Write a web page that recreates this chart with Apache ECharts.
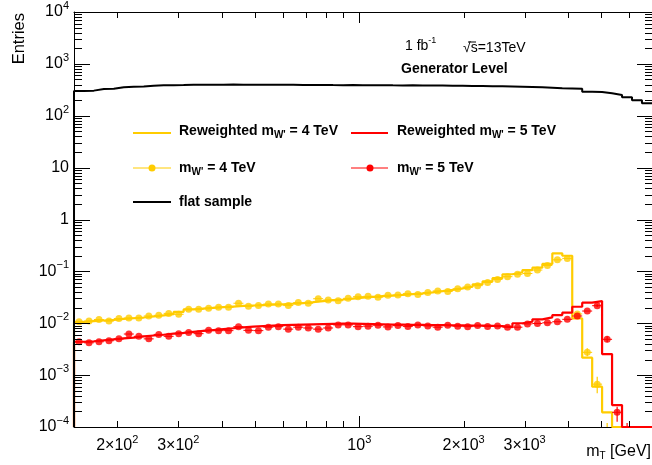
<!DOCTYPE html>
<html>
<head>
<meta charset="utf-8">
<title>mT reweighting</title>
<script src="https://cdn.jsdelivr.net/npm/echarts@6/dist/echarts.min.js"></script>
<style>
  html, body { margin: 0; padding: 0; background: #fff; }
  #chart { width: 652px; height: 465px; }
</style>
</head>
<body>
<div id="chart"></div>
<script>
// mT bin edges [GeV], 58 log-spaced bins
const binEdges = [150, 160.3, 171.2, 183.0, 195.5, 208.9, 223.2, 238.5, 254.8, 272.3,
  290.9, 310.9, 332.2, 354.9, 379.3, 405.2, 433.0, 462.7, 494.4, 528.2,
  564.4, 603.1, 644.4, 688.6, 735.7, 786.2, 840.0, 897.6, 959.0, 1024.5,
  1094.8, 1169.6, 1249.8, 1335.4, 1426.9, 1524.5, 1628.9, 1740.5, 1859.9, 1987.0,
  2123.3, 2268.8, 2423.8, 2589.9, 2767.5, 2957.5, 3159.9, 3376.7, 3608.1, 3855.0,
  4118.7, 4401.0, 4702.6, 5023.1, 5367.6, 5735.4, 6128.6, 6548.0, 7000]

// flat sample (black)
const flatSample = [300, 305, 328, 330, 355, 362, 368, 380, 386, 388,
  390, 395, 397, 398, 396, 399, 397, 398, 396, 397,
  395, 396, 392, 391, 393, 390, 389, 390, 388, 387,
  388, 386, 385, 386, 384, 382, 381, 378, 377, 375,
  373, 371, 370, 366, 362, 358, 354, 348, 340, 335,
  330, 291, 288, 271, 251, 227, 200, 174]

// reweighted flat sample, mW' = 4 TeV
const rewW4 = [0.0106, 0.0110, 0.0113, 0.0116, 0.0121, 0.0125, 0.0129, 0.0135, 0.0142, 0.0150,
  0.0165, 0.0185, 0.0192, 0.0198, 0.0204, 0.0210, 0.0216, 0.0220, 0.0224, 0.0228,
  0.0232, 0.0238, 0.0245, 0.0255, 0.0268, 0.0278, 0.0287, 0.0298, 0.0312, 0.0322,
  0.0332, 0.0342, 0.0352, 0.0364, 0.0378, 0.0395, 0.0415, 0.0440, 0.0470, 0.0505,
  0.0560, 0.0640, 0.0740, 0.088, 0.096, 0.106, 0.118, 0.139, 0.223, 0.200,
  0.0124, 0.00217, 0.000598, 0.000192, 0, 0, 0, 0]

// reweighted flat sample, mW' = 5 TeV
const rewW5 = [0.0044, 0.0045, 0.0047, 0.0049, 0.0051, 0.0053, 0.0056, 0.0058, 0.0060, 0.0063,
  0.0065, 0.0068, 0.0071, 0.0074, 0.0077, 0.0080, 0.0083, 0.0086, 0.0088, 0.0090,
  0.0092, 0.0093, 0.0094, 0.0095, 0.0096, 0.0097, 0.0098, 0.0098, 0.0097, 0.0096,
  0.0095, 0.0094, 0.0094, 0.0093, 0.0093, 0.0092, 0.0092, 0.0091, 0.0091, 0.0090,
  0.0090, 0.0089, 0.0088, 0.0084, 0.0100, 0.0107, 0.0119, 0.0130, 0.0144, 0.0160,
  0.0208, 0.0249, 0.0268, 0.00255, 0.000265, 0, 0, 0]

// signal samples (points)
const sigW4 = [0.0107, 0.0110, 0.0118, 0.0110, 0.0123, 0.0126, 0.0126, 0.0138, 0.0142, 0.0155,
  0.0149, 0.0186, 0.0186, 0.0194, 0.0203, 0.0203, 0.0243, 0.0212, 0.0219, 0.0235,
  0.0235, 0.0219, 0.0250, 0.0243, 0.0297, 0.0280, 0.0272, 0.0302, 0.0325, 0.0330,
  0.0318, 0.0345, 0.0350, 0.0372, 0.0360, 0.0392, 0.0420, 0.0410, 0.0462, 0.0500,
  0.0530, 0.0610, 0.0700, 0.079, 0.088, 0.091, 0.106, 0.130, 0.167, 0.178,
  0.0151, 0.00275, 0.00067, 0, 0, 0, 0, 0]

const sigW5 = [0.0044, 0.0042, 0.0044, 0.0046, 0.0050, 0.0062, 0.0056, 0.0050, 0.0061, 0.0056,
  0.0063, 0.0066, 0.0063, 0.0073, 0.0072, 0.0072, 0.0086, 0.0073, 0.0072, 0.0084,
  0.0086, 0.0077, 0.0084, 0.0081, 0.0077, 0.0081, 0.0093, 0.0093, 0.0086, 0.0088,
  0.0092, 0.0085, 0.0090, 0.0087, 0.0093, 0.0089, 0.0084, 0.0091, 0.0088, 0.0086,
  0.0090, 0.0087, 0.0089, 0.0084, 0.0084, 0.0097, 0.0099, 0.0102, 0.0107, 0.0119,
  0.0138, 0.0172, 0.0218, 0.0049, 0.000192, 0, 0, 0]

// visible vertical error bars: [bin, low, high]
const sigW4Err = [[51, 0.0023, 0.0033], [52, 0.000445, 0.00093], [53, 0, 0.00012]]
const sigW5Err = [[52, 0.0205, 0.0232], [53, 0.0043, 0.0056], [54, 0.000126, 0.000246], [55, 0, 0.00012]]

// axis labels
const xLabelValues = [200, 300, 1000, 2000, 3000]
const xLabelTexts = ['2×10{e|2}', '3×10{e|2}', '10{e|3}', '2×10{e|3}', '3×10{e|3}']
const yLabelValues = [1e-4, 1e-3, 1e-2, 1e-1, 1, 10, 100, 1000, 10000]
const yLabelTexts = ['10{e|−4}', '10{e|−3}', '10{e|−2}', '10{e|−1}', '1', '10', '10{e|2}', '10{e|3}', '10{e|4}']

const xMin = 150, xMax = 7000, yMin = 1e-4, yMax = 1e4
// empty bins sit on the lower frame (nudged just inside the axis range)
const yFloor = yMin * 1.001
const YELLOW = '#ffcc00', RED = '#ff0000'
const FONT = '"Liberation Sans", Arial, sans-serif'
const GRID = { left: 74, top: 12, right: 0, bottom: 38 }
const W = 652, H = 465

// tick marks: [x, y, kind (0 = x tick, 1 = y tick), length]
const tickData = []
for (let d = 100; d <= 1000; d *= 10) {
  for (let m = 2; m <= 9; m++) {
    if (m * d < xMax) tickData.push([m * d, 1, 0, 6])
  }
}
tickData.push([1000, 1, 0, 11])
for (let e = -4; e <= 3; e++) {
  for (let m = 2; m <= 9; m++) tickData.push([1000, Number((m * Math.pow(10, e)).toPrecision(3)), 1, 8])
}
yLabelValues.forEach(v => {
  if (v > yMin && v < yMax) tickData.push([1000, v, 1, 16])
})

const pickLabel = (values, texts) => v => {
  for (let i = 0; i < values.length; i++) {
    if (Math.abs(v / values[i] - 1) < 1e-6) return texts[i]
  }
  return ''
}

const stepData = vals => {
  const x0 = binEdges[0] * 1.0001
  const d = [[x0, yFloor]]
  vals.forEach((v, i) => d.push([i === 0 ? x0 : binEdges[i], v > 0 ? v : yFloor]))
  const last = vals[vals.length - 1]
  d.push([binEdges[vals.length] / 1.0001, last > 0 ? last : yFloor])
  return d
}

const pointData = vals => {
  const d = []
  vals.forEach((v, i) => {
    if (v > 0) d.push([(binEdges[i] + binEdges[i + 1]) / 2, v])
  })
  return d
}

const errData = (vals, errs) => {
  const d = []
  vals.forEach((v, i) => {
    const e = errs.find(r => r[0] === i)
    if (v > 0 || e) {
      d.push([(binEdges[i] + binEdges[i + 1]) / 2, v > 0 ? v : yFloor,
        binEdges[i], binEdges[i + 1], e ? Math.max(e[1], yFloor) : 0, e ? e[2] : 0])
    }
  })
  return d
}

const seg = (x1, y1, x2, y2, color, w) => ({
  type: 'line', shape: { x1, y1, x2, y2 }, style: { stroke: color, lineWidth: w }
})

const errRender = color => (params, api) => {
  const children = []
  const y = api.value(1)
  if (y > yFloor) {
    const a = api.coord([api.value(2), y])
    const b = api.coord([api.value(3), y])
    children.push(seg(a[0], a[1], b[0], b[1], color, 1))
  }
  if (api.value(5) > 0) {
    const p = api.coord([api.value(0), api.value(4)])
    const q = api.coord([api.value(0), api.value(5)])
    children.push(seg(p[0], p[1], q[0], q[1], color, 1.2))
  }
  return { type: 'group', children }
}

// frame edges in pixels, taken from the scales a hair inside the axis range
const frameOf = api => {
  const a = api.coord([xMin * 1.001, yMin * 1.001])
  const b = api.coord([xMax / 1.001, yMax / 1.001])
  const ok = v => isFinite(v)
  return {
    l: ok(a[0]) ? Math.round(a[0]) : GRID.left,
    b: ok(a[1]) ? Math.round(a[1]) : H - GRID.bottom,
    r: ok(b[0]) ? Math.round(b[0]) : W - GRID.right,
    t: ok(b[1]) ? Math.round(b[1]) : GRID.top
  }
}

// ticks on all four sides, pointing inward
const tickRender = (params, api) => {
  const f = frameOf(api)
  const p = api.coord([api.value(0), api.value(1)])
  const len = api.value(3)
  if (api.value(2) === 0) {
    const x = Math.round(p[0]) + 0.5
    return { type: 'group', children: [seg(x, f.b, x, f.b - len, '#000', 1), seg(x, f.t, x, f.t + len, '#000', 1)] }
  }
  const y = Math.round(p[1]) + 0.5
  return { type: 'group', children: [seg(f.l, y, f.l + len, y, '#000', 1), seg(f.r, y, f.r - len + 1, y, '#000', 1)] }
}

const supRich = { e: { fontSize: 11, fontFamily: FONT, color: '#000', verticalAlign: 'top', padding: [0, 0, 12, 0] } }

const frameLine = { show: true, onZero: false, lineStyle: { color: '#000', width: 1 } }

const legendRich = {
  b: { fontSize: 14, fontWeight: 'bold', fontFamily: FONT, color: '#000' },
  sub: { fontSize: 10, fontWeight: 'bold', fontFamily: FONT, color: '#000', verticalAlign: 'bottom', padding: [9, 0, 0, 0] }
}

const baseGraphic = [
  // axis titles
  {
    type: 'text', x: 19, y: 13, rotation: Math.PI / 2, silent: true,
    style: { text: 'Entries', font: '16.5px ' + FONT, fill: '#000', textAlign: 'right', textVerticalAlign: 'middle' }
  },
  {
    type: 'text', x: 651, y: 452, silent: true,
    style: {
      text: '{m|m}{t|T}{m| [GeV]}', textAlign: 'right', textVerticalAlign: 'middle',
      rich: {
        m: { fontSize: 16, fontFamily: FONT, color: '#000' },
        t: { fontSize: 10, fontFamily: FONT, color: '#000', verticalAlign: 'bottom', padding: [9, 0, 0, 0] }
      }
    }
  },
  // labels
  {
    type: 'text', x: 405, y: 46, silent: true,
    style: {
      text: '{m|1 fb}{e|-1}', textVerticalAlign: 'middle',
      rich: {
        m: { fontSize: 14, fontFamily: FONT, color: '#000' },
        e: { fontSize: 9, fontFamily: FONT, color: '#000', verticalAlign: 'top', padding: [0, 0, 10, 0] }
      }
    }
  },
  { type: 'text', x: 463, y: 48, silent: true, style: { text: '√s=13TeV', font: '14px ' + FONT, fill: '#000', textVerticalAlign: 'middle' } },
  { type: 'line', silent: true, shape: { x1: 468, y1: 42, x2: 476, y2: 42 }, style: { stroke: '#000', lineWidth: 1 } },
  { type: 'text', x: 401, y: 69, silent: true, style: { text: 'Generator Level', font: 'bold 14px ' + FONT, fill: '#000', textVerticalAlign: 'middle' } },
  // legend
  { type: 'line', silent: true, shape: { x1: 133, y1: 133, x2: 171, y2: 133 }, style: { stroke: YELLOW, lineWidth: 2 } },
  { type: 'text', x: 179, y: 131, silent: true, style: { text: "{b|Reweighted m}{sub|W'}{b| = 4 TeV}", textVerticalAlign: 'middle', rich: legendRich } },
  { type: 'line', silent: true, shape: { x1: 351, y1: 133, x2: 388, y2: 133 }, style: { stroke: RED, lineWidth: 2 } },
  { type: 'text', x: 397, y: 131, silent: true, style: { text: "{b|Reweighted m}{sub|W'}{b| = 5 TeV}", textVerticalAlign: 'middle', rich: legendRich } },
  { type: 'line', silent: true, shape: { x1: 133, y1: 168, x2: 171, y2: 168 }, style: { stroke: YELLOW, lineWidth: 1 } },
  { type: 'circle', silent: true, shape: { cx: 152, cy: 168, r: 3.5 }, style: { fill: YELLOW } },
  { type: 'text', x: 179, y: 168, silent: true, style: { text: "{b|m}{sub|W'}{b| = 4 TeV}", textVerticalAlign: 'middle', rich: legendRich } },
  { type: 'line', silent: true, shape: { x1: 351, y1: 168, x2: 388, y2: 168 }, style: { stroke: RED, lineWidth: 1 } },
  { type: 'circle', silent: true, shape: { cx: 370, cy: 168, r: 3.5 }, style: { fill: RED } },
  { type: 'text', x: 397, y: 168, silent: true, style: { text: "{b|m}{sub|W'}{b| = 5 TeV}", textVerticalAlign: 'middle', rich: legendRich } },
  { type: 'line', silent: true, shape: { x1: 133, y1: 202, x2: 171, y2: 202 }, style: { stroke: '#000', lineWidth: 2 } },
  { type: 'text', x: 179, y: 202, silent: true, style: { text: 'flat sample', font: 'bold 14px ' + FONT, fill: '#000', textVerticalAlign: 'middle' } }
]

const buildOption = extraGraphic => ({
  animation: false,
  backgroundColor: '#fff',
  grid: Object.assign({ containLabel: false, outerBoundsMode: 'none' }, GRID),
  xAxis: [
    {
      type: 'log', min: xMin, max: xMax, position: 'bottom',
      axisLine: frameLine, axisTick: { show: false }, splitLine: { show: false },
      axisLabel: {
        customValues: xLabelValues, formatter: pickLabel(xLabelValues, xLabelTexts),
        margin: 7, fontSize: 16, fontFamily: FONT, color: '#000', rich: supRich
      }
    },
    {
      type: 'log', min: xMin, max: xMax, position: 'top',
      axisLine: frameLine, axisTick: { show: false }, axisLabel: { show: false }, splitLine: { show: false }
    }
  ],
  yAxis: [
    {
      type: 'log', min: yMin, max: yMax, position: 'left',
      axisLine: frameLine, axisTick: { show: false }, splitLine: { show: false },
      axisLabel: {
        customValues: yLabelValues, formatter: pickLabel(yLabelValues, yLabelTexts),
        margin: 5, fontSize: 16, fontFamily: FONT, color: '#000', rich: supRich
      }
    },
    {
      type: 'log', min: yMin, max: yMax, position: 'right',
      axisLine: frameLine, axisTick: { show: false }, axisLabel: { show: false }, splitLine: { show: false }
    }
  ],
  series: [
    {
      name: "Reweighted mW' = 4 TeV", type: 'line', step: 'end', symbol: 'none', clip: true,
      data: stepData(rewW4), lineStyle: { color: YELLOW, width: 2.2 }, z: 2
    },
    {
      name: "Reweighted mW' = 5 TeV", type: 'line', step: 'end', symbol: 'none', clip: true,
      data: stepData(rewW5), lineStyle: { color: RED, width: 2.2 }, z: 2
    },
    {
      name: 'err4', type: 'custom', clip: true, renderItem: errRender(YELLOW),
      data: errData(sigW4, sigW4Err), z: 3
    },
    {
      name: "mW' = 4 TeV", type: 'scatter', symbol: 'circle', symbolSize: 7, clip: true,
      data: pointData(sigW4), itemStyle: { color: YELLOW }, z: 3
    },
    {
      name: 'err5', type: 'custom', clip: true, renderItem: errRender(RED),
      data: errData(sigW5, sigW5Err), z: 3
    },
    {
      name: "mW' = 5 TeV", type: 'scatter', symbol: 'circle', symbolSize: 7, clip: true,
      data: pointData(sigW5), itemStyle: { color: RED }, z: 3
    },
    {
      name: 'flat sample', type: 'line', step: 'end', symbol: 'none', clip: true,
      data: stepData(flatSample), lineStyle: { color: '#000', width: 2 }, z: 4
    },
    {
      name: 'ticks', type: 'custom', clip: true, renderItem: tickRender,
      data: tickData, z: 3
    }
  ],
  graphic: baseGraphic.concat(extraGraphic)
})

const chart = echarts.init(document.getElementById('chart'))
chart.setOption(buildOption([]))

// second pass: the same ticks as plain lines, positioned through the laid-out axes
const toPx = p => chart.convertToPixel({ xAxisIndex: 0, yAxisIndex: 0 }, p)
const frameL = GRID.left, frameT = GRID.top, frameR = W - GRID.right, frameB = H - GRID.bottom
const tickLines = []
tickData.forEach(t => {
  const p = toPx([t[0], t[1]])
  if (!p) return
  if (t[2] === 0 && isFinite(p[0])) {
    const x = Math.round(p[0]) + 0.5
    tickLines.push(seg(x, frameB, x, frameB - t[3], '#000', 1), seg(x, frameT, x, frameT + t[3], '#000', 1))
  } else if (t[2] === 1 && isFinite(p[1])) {
    const y = Math.round(p[1]) + 0.5
    tickLines.push(seg(frameL, y, frameL + t[3], y, '#000', 1), seg(frameR, y, frameR - t[3] + 1, y, '#000', 1))
  }
})
tickLines.forEach(el => { el.silent = true; el.z = 10 })
chart.setOption(buildOption(tickLines), true)
</script>
</body>
</html>
